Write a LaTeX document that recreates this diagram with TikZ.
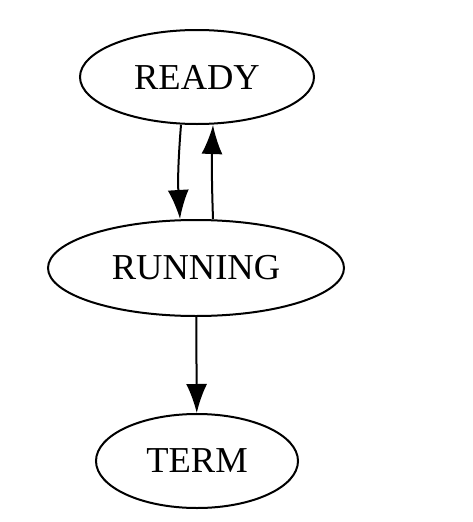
\documentclass[tikz,border=0pt]{standalone}
\usepackage{fontspec}
\setmainfont{Liberation Serif}
\usetikzlibrary{arrows.meta,shapes.geometric}
\begin{document}
\begin{tikzpicture}[x=1pt, y=-1pt, >={Latex[length=29pt,width=21pt]},
	state/.style={draw, ellipse, line width=2pt, inner sep=0pt, font=\fontsize{36.5}{36.5}\selectfont}]
\useasboundingbox (0,0) rectangle (472,522);
\node (ready)[state, minimum width=234pt, minimum height=94pt] at (197,77) {READY};
\node (running)[state, minimum width=296pt, minimum height=96pt] at (196,268) {RUNNING};
\node (term)[state, minimum width=202pt, minimum height=94pt] at (197,461) {TERM};

\draw[line width=2pt, ->]([xshift=-16pt]ready.south) to[bend right=4] ([xshift=-16pt]running.north);
\draw[line width=2pt, ->]([xshift=17pt]running.north) to[bend left=2] ([xshift=16pt]ready.south);
\draw[line width=2pt, ->](running)--(term);
\end{tikzpicture}
\end{document}
